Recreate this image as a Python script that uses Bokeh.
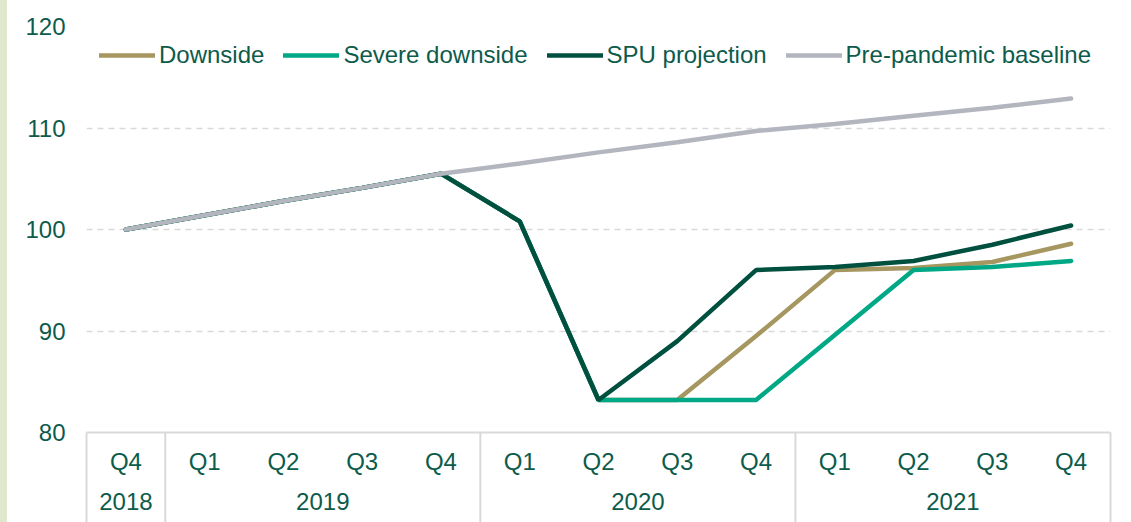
from bokeh.plotting import figure
from bokeh.models import FactorRange, Range1d, FixedTicker, Legend, LegendItem, ColumnDataSource
from bokeh.embed import file_html
from bokeh.resources import INLINE

years = ["2018", "2019", "2019", "2019", "2019", "2020", "2020", "2020", "2020",
         "2021", "2021", "2021", "2021"]
quarters = ["Q4", "Q1", "Q2", "Q3", "Q4", "Q1", "Q2", "Q3", "Q4", "Q1", "Q2", "Q3", "Q4"]

downside = [100.0, 101.4, 102.8, 104.1, 105.5, 100.8, 83.2, 83.2, 89.5, 96.0, 96.2, 96.8, 98.6]
severe = [100.0, 101.4, 102.8, 104.1, 105.5, 100.8, 83.2, 83.2, 83.2, 89.6, 96.0, 96.3, 96.9]
spu = [100.0, 101.4, 102.8, 104.1, 105.5, 100.8, 83.2, 89.0, 96.0, 96.3, 96.9, 98.5, 100.4]
baseline = [100.0, 101.4, 102.8, 104.1, 105.5, 106.5, 107.6, 108.6, 109.7, 110.4, 111.2, 112.0, 112.9]

y_ticks = [80, 90, 100, 110, 120]

TEXT = "#0d5b4b"
FONT = "Liberation Sans"

# year labels sit on a second (lower) row: a leading newline gives them extra room
factors = [("\n" + y, q) for y, q in zip(years, quarters)]
x_range = FactorRange(*factors, factor_padding=0, group_padding=0,
                      subgroup_padding=0, range_padding=0)

p = figure(x_range=x_range, y_range=Range1d(80, 120),
           frame_width=1024, frame_height=406,
           min_border_left=86, min_border_right=13, min_border_top=26, min_border_bottom=90,
           output_backend="svg", toolbar_location=None,
           background_fill_color=None, border_fill_color=None)
p.outline_line_color = None

src = ColumnDataSource(dict(x=factors, downside=downside, severe=severe, spu=spu, baseline=baseline))

r1 = p.line("x", "downside", source=src, line_color="#a69660", line_width=4.5)
r2 = p.line("x", "severe", source=src, line_color="#00a886", line_width=4.5)
r3 = p.line("x", "spu", source=src, line_color="#00503f", line_width=4.5)
r4 = p.line("x", "baseline", source=src, line_color="#b3b6bf", line_width=4.5)
for r in (r1, r2, r3, r4):
    r.glyph.line_cap = "round"

# year-group boundaries of the category axis, drawn below the axis line
bounds = [0] + [i for i in range(1, len(years)) if years[i] != years[i - 1]] + [len(years)]
p.segment(x0=bounds, y0=[80] * len(bounds), x1=bounds, y1=[70] * len(bounds),
          line_color="#d9d9d9", line_width=2, level="overlay")

legend = Legend(items=[LegendItem(label="Downside", renderers=[r1]),
                       LegendItem(label="Severe downside", renderers=[r2]),
                       LegendItem(label="SPU projection", renderers=[r3]),
                       LegendItem(label="Pre-pandemic baseline", renderers=[r4])],
                orientation="horizontal", location=(13, 363),
                glyph_width=56, glyph_height=24, label_height=24,
                label_standoff=4, spacing=19, padding=0, margin=0,
                border_line_color=None, background_fill_alpha=0,
                label_text_font=FONT, label_text_font_size="24px",
                label_text_color=TEXT)
p.add_layout(legend)

# y axis
p.yaxis.ticker = FixedTicker(ticks=y_ticks)
p.yaxis.axis_line_color = None
p.yaxis.major_tick_line_color = None
p.yaxis.minor_tick_line_color = None
p.yaxis.major_label_standoff = 15
p.yaxis.major_label_text_font = FONT
p.yaxis.major_label_text_font_size = "24px"
p.yaxis.major_label_text_color = TEXT

p.ygrid.ticker = FixedTicker(ticks=y_ticks)
p.ygrid.grid_line_color = "#d9d9d9"
p.ygrid.grid_line_width = 1.5
p.ygrid.grid_line_dash = "6 5"
p.xgrid.grid_line_color = None

# x axis
xa = p.xaxis[0]
xa.axis_line_color = "#d9d9d9"
xa.axis_line_width = 2
xa.major_tick_line_color = None
xa.major_label_standoff = 9
xa.major_label_text_font = FONT
xa.major_label_text_font_size = "24px"
xa.major_label_text_color = TEXT
xa.group_text_font = FONT
xa.group_text_font_size = "24px"
xa.group_text_line_height = 0.05
xa.group_text_color = TEXT
xa.group_text_font_style = "normal"
xa.separator_line_color = None

html = file_html(p, INLINE)
style = ("<style>html, body { background: linear-gradient(to right, #dfe8cd 0px, "
         "#dfe8cd 7px, #ffffff 7px) !important; }</style>")
html = html.replace("</head>", style + "</head>", 1)
open("out.html", "w").write(html)
